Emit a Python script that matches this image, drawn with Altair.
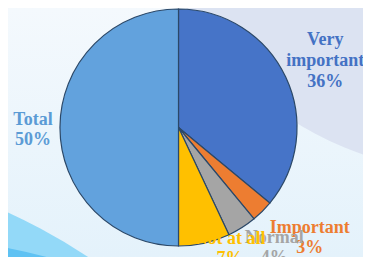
import altair as alt
import pandas as pd

# ---- data ----
categories = ["Very important", "Important", "Normal", "Not at all", "Total"]
values = [36, 3, 4, 7, 50]
labels = ["Very\nimportant\n36%", "Important\n3%", "Normal\n4%", "Not at all\n7%", "Total\n50%"]
fills = ["#4674C8", "#ED7D31", "#A5A5A5", "#FFC000", "#62A2DD"]
text_colors = ["#4472C4", "#ED7D31", "#A5A5A5", "#FFC000", "#5B9BD5"]

df = pd.DataFrame({
    "cat": categories,
    "value": values,
    "label": labels,
    "idx": list(range(len(categories))),
})

# ---- layout (styles) ----
OFF = 8
W, H = 355, 249
CX, CY, R = 178.5 - OFF, 127.5 - OFF, 118.5
LABEL_R = 160
label_shift = {
    "Very important": (2, -19),
    "Important": (18, -12.5),
    "Normal": (10, -25),
    "Not at all": (16.5, -45),
    "Total": (14.5, -8),
}
line_h = {"Very important": 21}
draw_order = ["Very important", "Important", "Total", "Normal", "Not at all"]

one = alt.Data(values=[{"a": 1}])

bg = alt.Chart(one).mark_rect(
    color=alt.LinearGradient(
        gradient="linear",
        stops=[alt.GradientStop(color="#f4f9fd", offset=0),
               alt.GradientStop(color="#e4f2fb", offset=1)],
        x1=0, x2=0, y1=0, y2=1,
    )
).encode(x=alt.value(0), x2=alt.value(W), y=alt.value(0), y2=alt.value(H))


def blob(cx, cy, r, color):
    # vega circle symbol: radius = sqrt(size) / 2
    return alt.Chart(one).mark_circle(opacity=1, clip=True, color=color).encode(
        x=alt.value(cx - OFF), y=alt.value(cy - OFF),
        size=alt.value(4 * r * r),
    )


lavender = blob(468, -152, 324, "#dce3f2")
band1 = blob(50 - 292, 232 + 526, 600, "#93d9f8")
band2 = blob(35 - 142, 254 + 583, 600, "#5fc2f3")

color_scale = alt.Scale(domain=categories, range=fills)

base = alt.Chart(df).encode(
    theta=alt.Theta("value:Q", stack=True),
    order=alt.Order("idx:Q"),
)

pie = base.mark_arc(outerRadius=R, stroke="#2b4868", strokeWidth=1.2).encode(
    color=alt.Color("cat:N", scale=color_scale, legend=None),
    x=alt.value(CX), y=alt.value(CY),
)

text_layers = []
for c in draw_order:
    i = categories.index(c)
    dx, dy = label_shift[c]
    t = base.mark_text(
        radius=LABEL_R, dx=dx, dy=dy, lineBreak="\n", lineHeight=line_h.get(c, 20),
        font="Liberation Serif", fontWeight="bold", fontSize=18,
        align="center", baseline="middle", color=text_colors[i],
    ).encode(
        text=alt.condition(alt.datum.cat == c, alt.Text("label:N"), alt.value("")),
        x=alt.value(CX), y=alt.value(CY),
    )
    text_layers.append(t)

chart = alt.layer(bg, lavender, band1, band2, pie, *text_layers).properties(
    width=W, height=H, padding=0, autosize=alt.AutoSizeParams(type="none"),
).configure_view(stroke=None)

chart.save("out.html", embed_options={"renderer": "svg", "actions": False})
